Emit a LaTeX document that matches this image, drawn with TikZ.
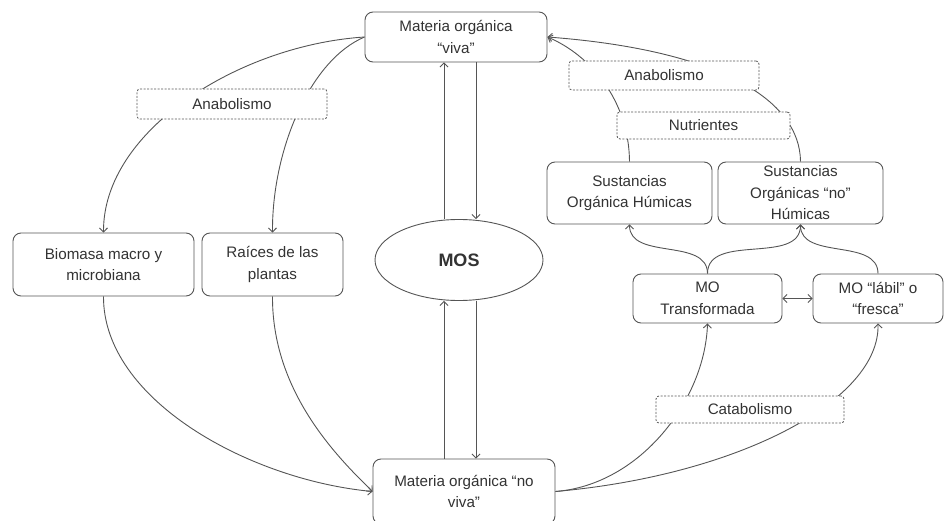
\documentclass[tikz,border=0pt]{standalone}
\usepackage{fontspec}
\setmainfont{Liberation Sans}
\usetikzlibrary{arrows.meta,shapes.geometric,calc}
\definecolor{ln}{HTML}{555555}
\definecolor{tx}{HTML}{333333}
\pgfdeclarelayer{bg}
\pgfsetlayers{bg,main}
\begin{document}
\begin{tikzpicture}[x=1pt,y=1pt,
  txt/.style={text=tx,font=\fontsize{15.2}{21.5}\selectfont},
  box/.style={txt,draw=ln,line width=0.9pt,rounded corners=8pt,fill=white,align=center,inner sep=0pt},
  lbl/.style={txt,draw=ln,dash pattern=on 2pt off 1.5pt,line width=0.8pt,rounded corners=3pt,fill=white,inner sep=0pt},
  arr/.style={draw=ln,line width=0.9pt,-{Straight Barb[length=4pt,width=8pt]}},
  darr/.style={draw=ln,line width=0.9pt,{Straight Barb[length=4pt,width=8pt]}-{Straight Barb[length=4pt,width=8pt]}}]
\useasboundingbox (0,0) rectangle (945,-521);
% nodes
\node[box,minimum width=182,minimum height=50] (viva) at (456,-37) {Materia orgánica\\“viva”};
\node[box,minimum width=182,minimum height=65] (nov) at (464,-491.5) {Materia orgánica “no\\viva”};
\node[draw=ln,ellipse,line width=0.9pt,minimum width=168,minimum height=81,inner sep=0pt,fill=white,text=tx,font=\bfseries\fontsize{18}{20}\selectfont] (mos) at (459,-260) {MOS};
\node[box,minimum width=181,minimum height=63] (bio) at (103.5,-264.5) {Biomasa macro y\\microbiana};
\node[box,minimum width=141,minimum height=63] (rai) at (272.5,-264.5) {Raíces de las\\plantas};
\node[box,minimum width=165,minimum height=62] (shum) at (629.5,-193) {Sustancias\\Orgánica Húmicas};
\node[box,minimum width=165,minimum height=62] (noh) at (800.5,-193) {Sustancias\\Orgánicas “no”\\Húmicas};
\node[box,minimum width=149,minimum height=49] (trans) at (707.5,-298.5) {MO\\Transformada};
\node[box,minimum width=130,minimum height=49] (lab) at (878,-298.5) {MO “lábil” o\\“fresca”};
\node[lbl,minimum width=190,minimum height=30] (an1) at (232,-104) {Anabolismo};
\node[lbl,minimum width=190,minimum height=29] (an2) at (664,-75.5) {Anabolismo};
\node[lbl,minimum width=173,minimum height=27] (nut) at (703.5,-125.5) {Nutrientes};
\node[lbl,minimum width=188,minimum height=27] (cat) at (750,-409.5) {Catabolismo};
\coordinate (L) at (444,0);
\coordinate (R) at (476,0);
% connectors
\begin{pgfonlayer}{bg}
\draw[arr] (viva.west) .. controls (240,-45) and (103,-130) .. (bio.north);
\draw[arr] (viva.west) .. controls (310,-60) and (272,-150) .. (rai.north);
\draw[arr] (bio.south) .. controls (103,-400) and (250,-480) .. (nov.west);
\draw[arr] (rai.south) .. controls (272,-390) and (335,-455) .. (nov.west);
\draw[arr] (nov.east) .. controls (640,-485) and (705,-400) .. (trans.south);
\draw[arr] (nov.east) .. controls (740,-475) and (880,-400) .. (lab.south);
\draw[arr] (trans.north) to[out=90,in=-90] (shum.south);
\draw[arr] (trans.north) to[out=90,in=-90] (noh.south);
\draw[arr] (lab.north) to[out=90,in=-90] (noh.south);
\draw[darr] (trans.east) -- (lab.west);
\draw[arr] (shum.north) .. controls (629,-100) and (590,-55) .. (viva.east);
\draw[arr] (noh.north) .. controls (800,-100) and (720,-50) .. (viva.east);
\draw[arr] (L |- mos.north) -- (L |- viva.south);
\draw[arr] (R |- viva.south) -- (R |- mos.north);
\draw[arr] (L |- nov.north) -- (L |- mos.south);
\draw[arr] (R |- mos.south) -- (R |- nov.north);
\end{pgfonlayer}
\end{tikzpicture}
\end{document}
